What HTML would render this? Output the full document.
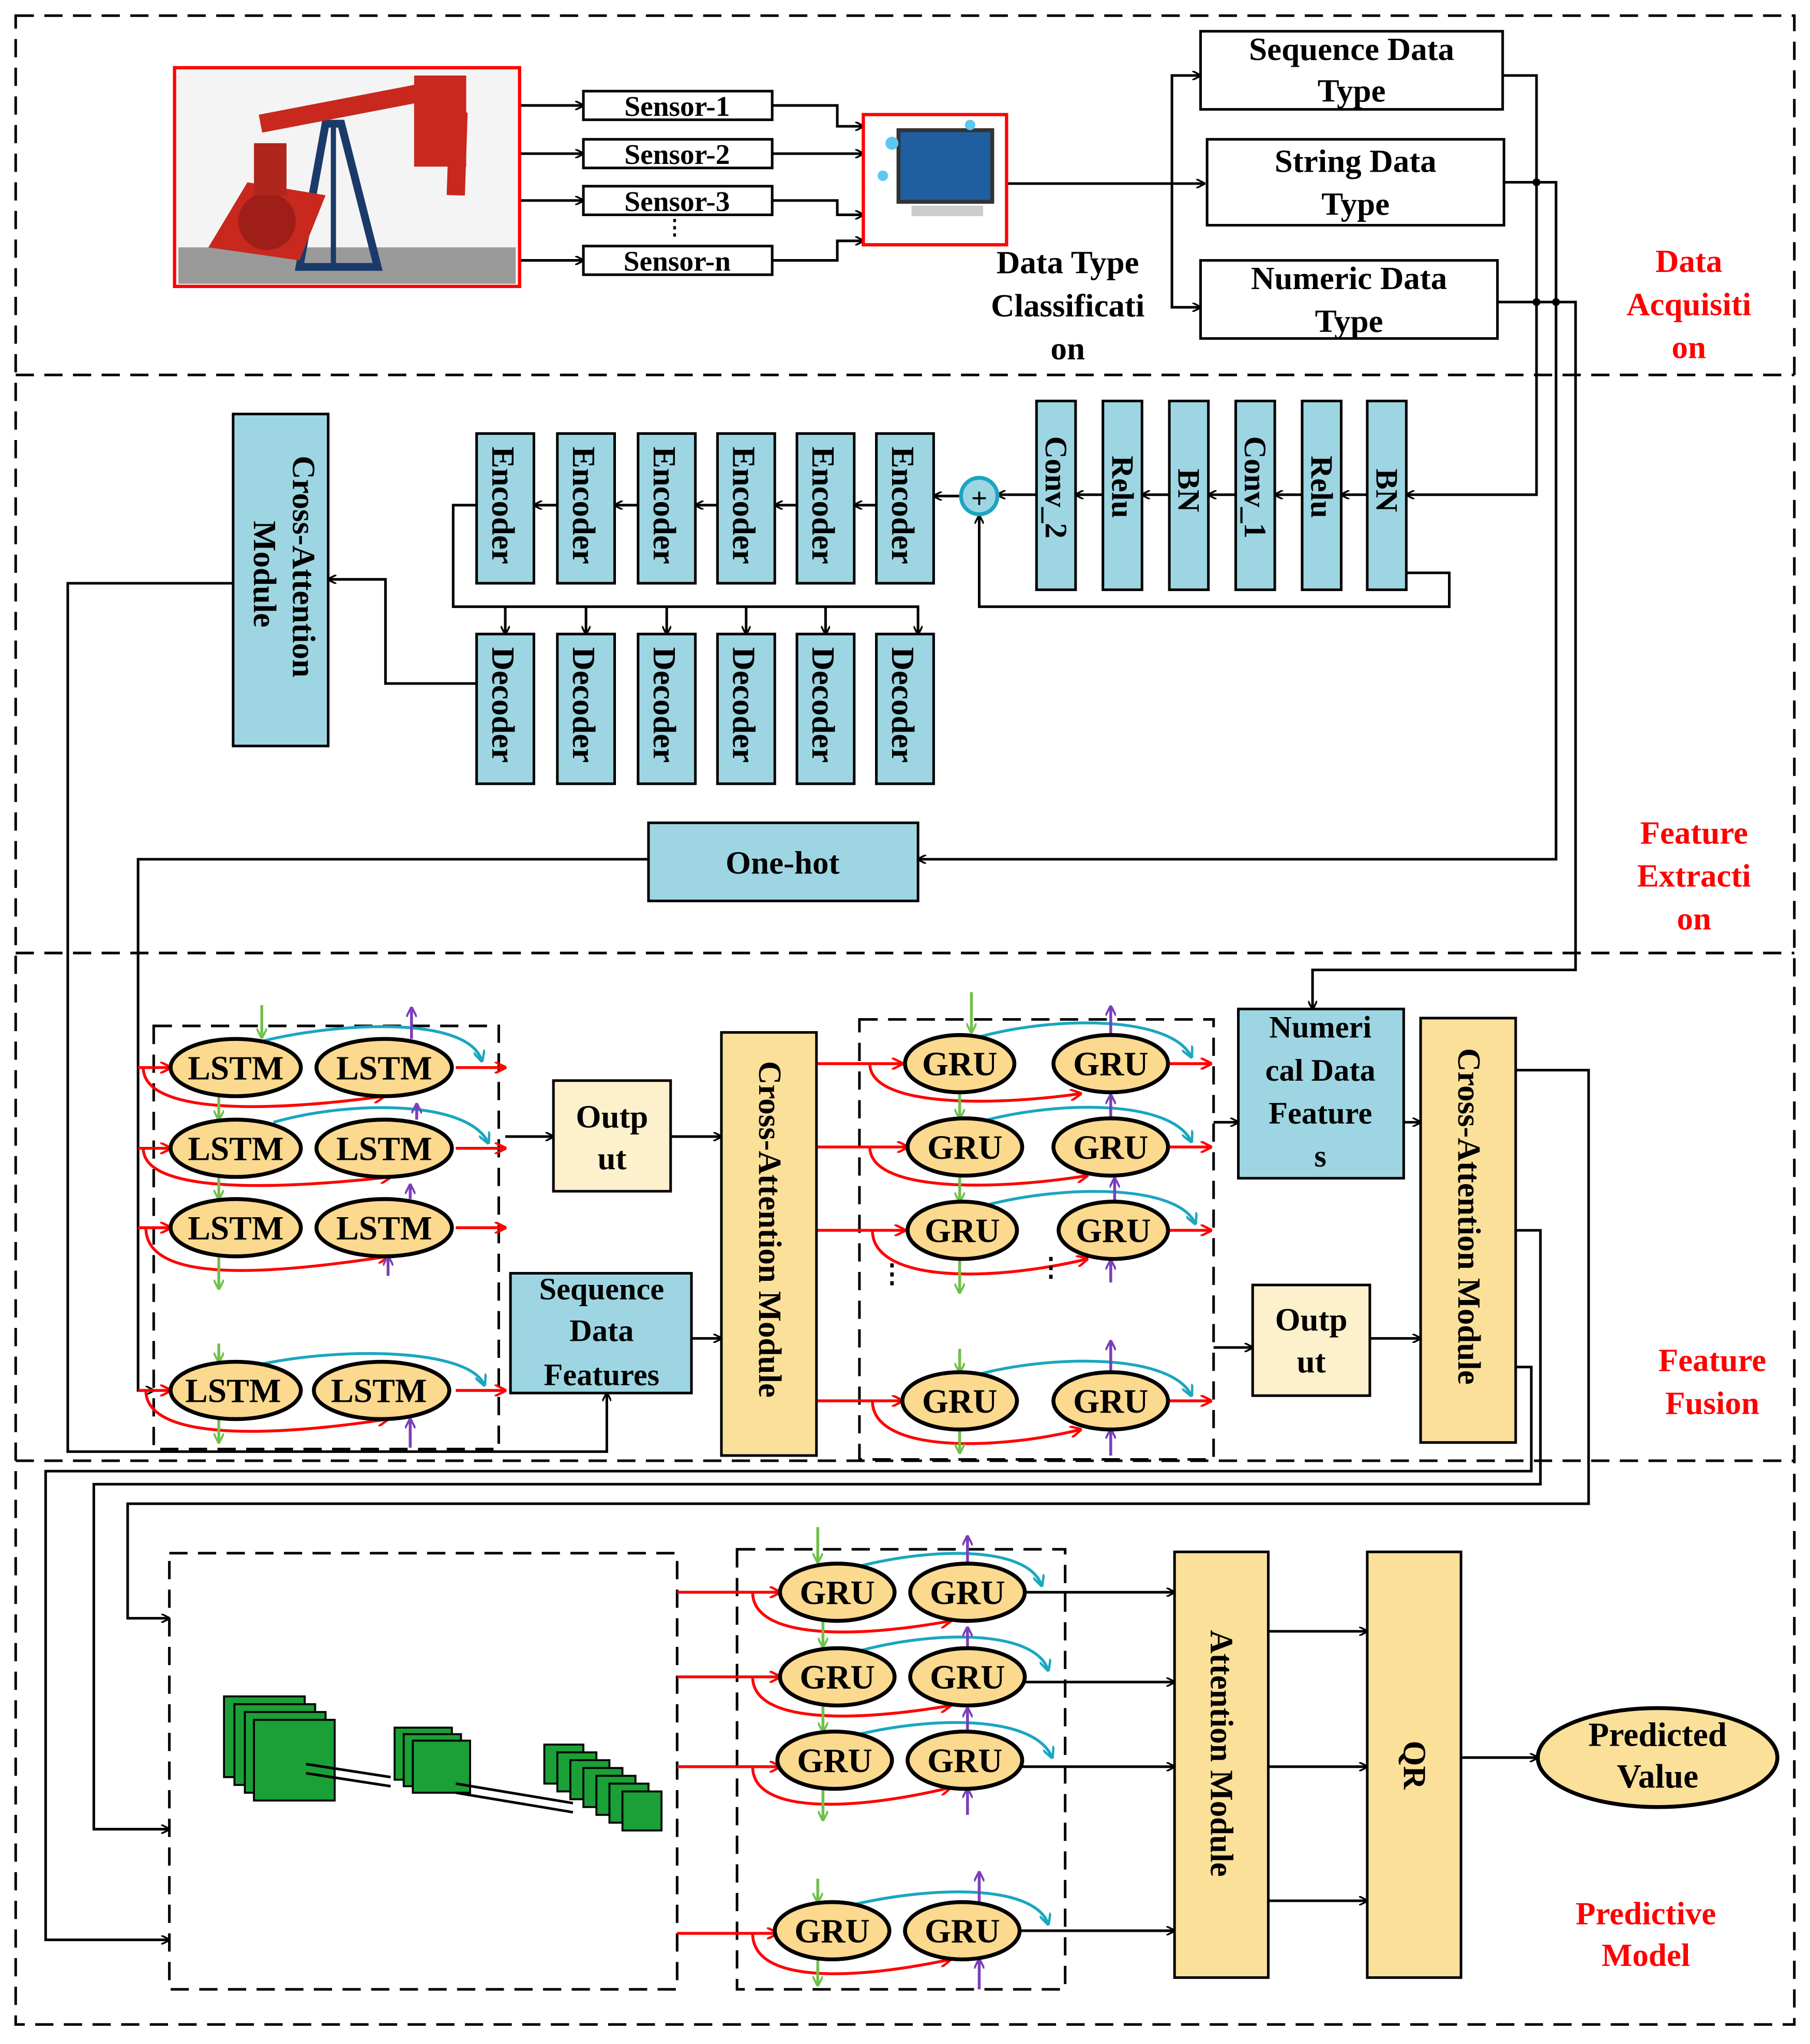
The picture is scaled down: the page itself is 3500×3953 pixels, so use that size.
<!DOCTYPE html>
<html><head><meta charset="utf-8"><style>
html,body{margin:0;padding:0;background:#fff}
svg{display:block}
text{font-family:"Liberation Serif",serif;font-weight:bold}
.k text, text.k{fill:#000}
.red text, text.red{fill:#f00}
</style></head><body>
<svg width="3500" height="3953" viewBox="0 0 1390 1570" xmlns="http://www.w3.org/2000/svg" class="k">
<defs>
<marker id="a" viewBox="0 0 10 10" refX="9" refY="5" markerWidth="7" markerHeight="7" orient="auto" markerUnits="userSpaceOnUse"><path d="M0,0 L10,5 L0,10" fill="none" stroke="#000" stroke-width="2"/></marker>
<marker id="r" viewBox="0 0 10 10" refX="9" refY="5" markerWidth="9" markerHeight="9" orient="auto" markerUnits="userSpaceOnUse"><path d="M0,0 L10,5 L0,10" fill="none" stroke="#f00" stroke-width="2"/></marker>
<marker id="c" viewBox="0 0 10 10" refX="9" refY="5" markerWidth="9" markerHeight="9" orient="auto" markerUnits="userSpaceOnUse"><path d="M0,0 L10,5 L0,10" fill="none" stroke="#1aa6c0" stroke-width="2"/></marker>
<marker id="g" viewBox="0 0 10 10" refX="9" refY="5" markerWidth="8" markerHeight="8" orient="auto" markerUnits="userSpaceOnUse"><path d="M0,0 L10,5 L0,10" fill="none" stroke="#70c04a" stroke-width="2"/></marker>
<marker id="p" viewBox="0 0 10 10" refX="9" refY="5" markerWidth="8" markerHeight="8" orient="auto" markerUnits="userSpaceOnUse"><path d="M0,0 L10,5 L0,10" fill="none" stroke="#7a3fb8" stroke-width="2"/></marker>
</defs>

<g fill="none" stroke="#000" stroke-width="2" stroke-dasharray="14,8">
<rect x="12" y="12" width="1366" height="1543"/>
<line x1="12" y1="288" x2="1378" y2="288"/>
<line x1="12" y1="732" x2="1378" y2="732"/>
<line x1="12" y1="1122" x2="1378" y2="1122"/>
</g>

<rect x="134" y="52" width="265" height="168" fill="#f4f4f4" stroke="#f00" stroke-width="2.5"/>
<g>
<rect x="137" y="190" width="259" height="28" fill="#9a9a9a"/>
<polygon points="230,205 250,95 262,95 290,205" fill="none" stroke="#1a3a6a" stroke-width="6"/>
<line x1="256" y1="95" x2="256" y2="205" stroke="#1a3a6a" stroke-width="4"/>
<path d="M200,95 L330,70 L352,90 L350,150" fill="none" stroke="#c8281e" stroke-width="14"/>
<rect x="318" y="58" width="40" height="70" fill="#c8281e"/>
<polygon points="160,190 190,140 250,150 230,200" fill="#c8281e"/>
<circle cx="205" cy="170" r="22" fill="#a01e18"/>
<rect x="195" y="110" width="25" height="40" fill="#b0261c"/>
</g>

<g stroke="#000" stroke-width="2" fill="#fff">
<rect x="448" y="70" width="145" height="22"/>
<rect x="448" y="107" width="145" height="22"/>
<rect x="448" y="143" width="145" height="22"/>
<rect x="448" y="189" width="145" height="22"/>
</g>
<g font-size="22" text-anchor="middle">
<text x="520" y="89">Sensor-1</text>
<text x="520" y="126">Sensor-2</text>
<text x="520" y="162">Sensor-3</text>
<text x="520" y="208">Sensor-n</text>
<text x="518" y="180" font-size="16">⋮</text>
</g>
<g stroke="#000" stroke-width="2" fill="none" marker-end="url(#a)">
<line x1="400" y1="81" x2="448" y2="81"/>
<line x1="400" y1="118" x2="448" y2="118"/>
<line x1="400" y1="154" x2="448" y2="154"/>
<line x1="400" y1="200" x2="448" y2="200"/>
<polyline points="593,81 643,81 643,97 663,97"/>
<polyline points="593,118 663,118"/>
<polyline points="593,154 643,154 643,165 663,165"/>
<polyline points="593,200 643,200 643,185 663,185"/>
<polyline points="773,141 925,141"/>
<polyline points="900,141 900,58 922,58"/>
<polyline points="900,141 900,236 922,236"/>
</g>
<rect x="663" y="88" width="110" height="100" fill="#fff" stroke="#f00" stroke-width="2.5"/>
<rect x="690" y="100" width="72" height="55" fill="#1f5fa0" stroke="#333" stroke-width="3"/>
<rect x="700" y="158" width="55" height="8" fill="#ccc"/>
<circle cx="685" cy="110" r="5" fill="#5ac8f0"/><circle cx="678" cy="135" r="4" fill="#5ac8f0"/><circle cx="745" cy="96" r="4" fill="#5ac8f0"/>

<g stroke="#000" stroke-width="2" fill="#fff">
<rect x="922" y="24" width="232" height="60"/>
<rect x="927" y="107" width="228" height="66"/>
<rect x="922" y="200" width="228" height="60"/>
</g>
<g font-size="25" text-anchor="middle">
<text x="1038" y="46">Sequence Data</text><text x="1038" y="78">Type</text>
<text x="1041" y="132">String Data</text><text x="1041" y="165">Type</text>
<text x="1036" y="222">Numeric Data</text><text x="1036" y="255">Type</text>
<text x="820" y="210">Data Type</text><text x="820" y="243">Classificati</text><text x="820" y="276">on</text>
</g>
<g font-size="25" text-anchor="middle" class="red">
<text x="1297" y="209">Data</text><text x="1297" y="242">Acquisiti</text><text x="1297" y="275">on</text>
<text x="1301" y="648">Feature</text><text x="1301" y="681">Extracti</text><text x="1301" y="714">on</text>
<text x="1315" y="1053">Feature</text><text x="1315" y="1086">Fusion</text>
<text x="1264" y="1478">Predictive</text><text x="1264" y="1510">Model</text>
</g>

<g stroke="#000" stroke-width="2" fill="none" marker-end="url(#a)">
<polyline points="1154,58 1180,58 1180,380 1080,380"/>
<polyline points="1155,140 1195,140 1195,660 705,660"/>
<polyline points="1150,232 1210,232 1210,745 1008,745 1008,775"/>
</g>
<circle cx="1180" cy="140" r="3"/><circle cx="1180" cy="232" r="3"/><circle cx="1195" cy="232" r="3"/>

<g fill="#9dd6e2" stroke="#000" stroke-width="2">
<rect x="796" y="308" width="30" height="145"/>
<rect x="847" y="308" width="30" height="145"/>
<rect x="898" y="308" width="30" height="145"/>
<rect x="949" y="308" width="30" height="145"/>
<rect x="1000" y="308" width="30" height="145"/>
<rect x="1050" y="308" width="30" height="145"/>
</g>
<g font-size="24">
<text transform="translate(803,335) rotate(90)">Conv_2</text>
<text transform="translate(854,350) rotate(90)">Relu</text>
<text transform="translate(905,360) rotate(90)">BN</text>
<text transform="translate(956,335) rotate(90)">Conv_1</text>
<text transform="translate(1007,350) rotate(90)">Relu</text>
<text transform="translate(1057,360) rotate(90)">BN</text>
</g>
<g stroke="#000" stroke-width="2" fill="none" marker-end="url(#a)">
<line x1="1050" y1="380" x2="1030" y2="380"/>
<line x1="1000" y1="380" x2="979" y2="380"/>
<line x1="949" y1="380" x2="928" y2="380"/>
<line x1="898" y1="380" x2="877" y2="380"/>
<line x1="847" y1="380" x2="826" y2="380"/>
<line x1="796" y1="380" x2="766" y2="380"/>
<polyline points="1080,440 1113,440 1113,466 752,466 752,396"/>
<line x1="738" y1="381" x2="717" y2="381"/>
</g>
<circle cx="752" cy="381" r="14" fill="#9dd6e2" stroke="#1aa6c0" stroke-width="3"/>
<text x="752" y="390" font-size="22" text-anchor="middle">+</text>

<g fill="#9dd6e2" stroke="#000" stroke-width="2">
<rect x="366" y="333" width="44" height="115"/><rect x="428" y="333" width="44" height="115"/>
<rect x="490" y="333" width="44" height="115"/><rect x="551" y="333" width="44" height="115"/>
<rect x="612" y="333" width="44" height="115"/><rect x="673" y="333" width="44" height="115"/>
<rect x="366" y="487" width="44" height="115"/><rect x="428" y="487" width="44" height="115"/>
<rect x="490" y="487" width="44" height="115"/><rect x="551" y="487" width="44" height="115"/>
<rect x="612" y="487" width="44" height="115"/><rect x="673" y="487" width="44" height="115"/>
</g>
<g font-size="25">
<text transform="translate(378,343) rotate(90)">Encoder</text><text transform="translate(440,343) rotate(90)">Encoder</text>
<text transform="translate(502,343) rotate(90)">Encoder</text><text transform="translate(563,343) rotate(90)">Encoder</text>
<text transform="translate(624,343) rotate(90)">Encoder</text><text transform="translate(685,343) rotate(90)">Encoder</text>
<text transform="translate(378,497) rotate(90)">Decoder</text><text transform="translate(440,497) rotate(90)">Decoder</text>
<text transform="translate(502,497) rotate(90)">Decoder</text><text transform="translate(563,497) rotate(90)">Decoder</text>
<text transform="translate(624,497) rotate(90)">Decoder</text><text transform="translate(685,497) rotate(90)">Decoder</text>
</g>
<g stroke="#000" stroke-width="2" fill="none" marker-end="url(#a)">
<line x1="673" y1="388" x2="656" y2="388"/><line x1="612" y1="388" x2="595" y2="388"/>
<line x1="551" y1="388" x2="534" y2="388"/><line x1="490" y1="388" x2="472" y2="388"/>
<line x1="428" y1="388" x2="410" y2="388"/>
<polyline points="366,388 348,388 348,466 705,466 705,487"/>
<line x1="388" y1="466" x2="388" y2="487"/><line x1="450" y1="466" x2="450" y2="487"/>
<line x1="512" y1="466" x2="512" y2="487"/><line x1="573" y1="466" x2="573" y2="487"/>
<line x1="634" y1="466" x2="634" y2="487"/>
<polyline points="366,525 296,525 296,445 252,445"/>
<polyline points="179,448 52,448 52,1115 466,1115 466,1070"/>
<polyline points="498,660 106,660 106,1068 118,1068"/>
</g>
<rect x="179" y="318" width="73" height="255" fill="#9dd6e2" stroke="#000" stroke-width="2"/>
<g font-size="25"><text transform="translate(225,350) rotate(90)">Cross-Attention</text><text transform="translate(195,400) rotate(90)">Module</text></g>
<rect x="498" y="632" width="207" height="60" fill="#9dd6e2" stroke="#000" stroke-width="2"/>
<text x="601" y="671" font-size="25" text-anchor="middle">One-hot</text>

<rect x="118" y="788" width="265" height="325" fill="none" stroke="#000" stroke-width="2" stroke-dasharray="14,8"/>
<rect x="660" y="783" width="272" height="338" fill="none" stroke="#000" stroke-width="2" stroke-dasharray="14,8"/>

<g stroke-width="2.2" fill="none">
<g stroke="#f00" marker-end="url(#r)">
<line x1="106" y1="820" x2="131" y2="820"/><line x1="106" y1="882" x2="131" y2="882"/>
<line x1="106" y1="943" x2="131" y2="943"/><line x1="106" y1="1068" x2="131" y2="1068"/>
<path d="M110,820 C110,855 200,855 295,842"/><path d="M110,882 C110,915 200,915 300,904"/>
<path d="M112,943 C112,985 200,980 298,965"/><path d="M112,1068 C112,1105 200,1105 298,1090"/>
<line x1="350" y1="820" x2="388" y2="820"/><line x1="350" y1="882" x2="388" y2="882"/>
<line x1="350" y1="943" x2="388" y2="943"/><line x1="350" y1="1068" x2="388" y2="1068"/>
</g>
<g stroke="#1aa6c0" marker-end="url(#c)">
<path d="M200,800 C260,785 360,780 370,815"/><path d="M210,862 C270,845 360,845 375,878"/>
<path d="M200,1048 C260,1035 360,1035 372,1064"/>
</g>
<g stroke="#70c04a" marker-end="url(#g)">
<line x1="201" y1="772" x2="201" y2="797"/><line x1="168" y1="842" x2="168" y2="860"/>
<line x1="168" y1="904" x2="168" y2="921"/><line x1="168" y1="965" x2="168" y2="990"/>
<line x1="168" y1="1032" x2="168" y2="1046"/><line x1="168" y1="1090" x2="168" y2="1108"/>
</g>
<g stroke="#7a3fb8" marker-end="url(#p)">
<line x1="316" y1="798" x2="316" y2="774"/><line x1="320" y1="860" x2="320" y2="848"/>
<line x1="315" y1="921" x2="315" y2="910"/><line x1="298" y1="980" x2="298" y2="965"/>
<line x1="315" y1="1112" x2="315" y2="1090"/>
</g>
<g stroke="#f00" marker-end="url(#r)">
<line x1="627" y1="817" x2="693" y2="817"/><line x1="627" y1="881" x2="697" y2="881"/>
<line x1="627" y1="945" x2="695" y2="945"/><line x1="627" y1="1076" x2="693" y2="1076"/>
<path d="M668,817 C668,850 760,850 830,840"/><path d="M668,881 C668,915 760,915 835,903"/>
<path d="M670,945 C670,985 760,985 835,967"/><path d="M670,1076 C670,1115 760,1115 830,1098"/>
<line x1="897" y1="817" x2="930" y2="817"/><line x1="897" y1="881" x2="930" y2="881"/>
<line x1="897" y1="945" x2="930" y2="945"/><line x1="897" y1="1076" x2="930" y2="1076"/>
</g>
<g stroke="#1aa6c0" marker-end="url(#c)">
<path d="M750,797 C810,780 900,780 915,812"/><path d="M755,861 C815,845 900,845 915,877"/>
<path d="M760,925 C820,910 905,910 918,940"/><path d="M750,1056 C810,1040 900,1040 915,1072"/>
</g>
<g stroke="#70c04a" marker-end="url(#g)">
<line x1="746" y1="762" x2="746" y2="793"/><line x1="737" y1="839" x2="737" y2="859"/>
<line x1="737" y1="903" x2="737" y2="923"/><line x1="737" y1="967" x2="737" y2="993"/>
<line x1="737" y1="1036" x2="737" y2="1054"/><line x1="737" y1="1098" x2="737" y2="1116"/>
</g>
<g stroke="#7a3fb8" marker-end="url(#p)">
<line x1="853" y1="795" x2="853" y2="773"/><line x1="853" y1="859" x2="853" y2="841"/>
<line x1="856" y1="923" x2="856" y2="905"/><line x1="853" y1="985" x2="853" y2="968"/>
<line x1="853" y1="1054" x2="853" y2="1030"/><line x1="853" y1="1118" x2="853" y2="1098"/>
</g>
</g>

<g fill="#fbd98e" stroke="#000" stroke-width="3">
<ellipse cx="181" cy="820" rx="50" ry="22"/><ellipse cx="295" cy="820" rx="52" ry="22"/>
<ellipse cx="181" cy="882" rx="50" ry="22"/><ellipse cx="295" cy="882" rx="52" ry="22"/>
<ellipse cx="181" cy="943" rx="50" ry="22"/><ellipse cx="295" cy="943" rx="52" ry="22"/>
<ellipse cx="181" cy="1068" rx="50" ry="22"/><ellipse cx="293" cy="1068" rx="52" ry="22"/>
<ellipse cx="737" cy="817" rx="42" ry="22"/><ellipse cx="853" cy="817" rx="44" ry="22"/>
<ellipse cx="741" cy="881" rx="44" ry="22"/><ellipse cx="853" cy="881" rx="44" ry="22"/>
<ellipse cx="739" cy="945" rx="42" ry="22"/><ellipse cx="855" cy="945" rx="42" ry="22"/>
<ellipse cx="737" cy="1076" rx="44" ry="22"/><ellipse cx="853" cy="1076" rx="44" ry="22"/>
</g>
<g font-size="26" text-anchor="middle">
<text x="181" y="829">LSTM</text><text x="295" y="829">LSTM</text>
<text x="181" y="891">LSTM</text><text x="295" y="891">LSTM</text>
<text x="181" y="952">LSTM</text><text x="295" y="952">LSTM</text>
<text x="179" y="1077">LSTM</text><text x="291" y="1077">LSTM</text>
<text x="737" y="826">GRU</text><text x="853" y="826">GRU</text>
<text x="741" y="890">GRU</text><text x="853" y="890">GRU</text>
<text x="739" y="954">GRU</text><text x="855" y="954">GRU</text>
<text x="737" y="1085">GRU</text><text x="853" y="1085">GRU</text>
<text x="685" y="985" font-size="20">⋮</text><text x="807" y="980" font-size="20">⋮</text>
</g>

<g stroke="#000" stroke-width="2" fill="none" marker-end="url(#a)">
<line x1="388" y1="873" x2="425" y2="873"/>
<line x1="515" y1="873" x2="554" y2="873"/>
<line x1="531" y1="1028" x2="554" y2="1028"/>
<polyline points="932,862 951,862"/>
<polyline points="932,1035 962,1035"/>
<line x1="1078" y1="862" x2="1091" y2="862"/>
<line x1="1052" y1="1028" x2="1091" y2="1028"/>
<polyline points="1164,822 1220,822 1220,1155 98,1155 98,1243 130,1243"/>
<polyline points="1164,945 1183,945 1183,1140 72,1140 72,1405 130,1405"/>
<polyline points="1164,1050 1176,1050 1176,1130 35,1130 35,1490 130,1490"/>
</g>
<rect x="425" y="830" width="90" height="85" fill="#fdf0cc" stroke="#000" stroke-width="2"/>
<g font-size="25" text-anchor="middle"><text x="470" y="866">Outp</text><text x="470" y="898">ut</text></g>
<rect x="962" y="987" width="90" height="85" fill="#fdf0cc" stroke="#000" stroke-width="2"/>
<g font-size="25" text-anchor="middle"><text x="1007" y="1022">Outp</text><text x="1007" y="1054">ut</text></g>
<rect x="392" y="978" width="139" height="92" fill="#9dd6e2" stroke="#000" stroke-width="2"/>
<g font-size="24" text-anchor="middle"><text x="462" y="998">Sequence</text><text x="462" y="1030">Data</text><text x="462" y="1064">Features</text></g>
<rect x="951" y="775" width="127" height="130" fill="#9dd6e2" stroke="#000" stroke-width="2"/>
<g font-size="24" text-anchor="middle"><text x="1014" y="797">Numeri</text><text x="1014" y="830">cal Data</text><text x="1014" y="863">Feature</text><text x="1014" y="896">s</text></g>
<rect x="554" y="793" width="73" height="325" fill="#fbe09a" stroke="#000" stroke-width="2"/>
<text transform="translate(583,815) rotate(90)" font-size="25">Cross-Attention Module</text>
<rect x="1091" y="782" width="73" height="326" fill="#fbe09a" stroke="#000" stroke-width="2"/>
<text transform="translate(1120,805) rotate(90)" font-size="25">Cross-Attention Module</text>

<rect x="130" y="1193" width="390" height="335" fill="none" stroke="#000" stroke-width="2" stroke-dasharray="14,8"/>
<rect x="566" y="1190" width="252" height="338" fill="none" stroke="#000" stroke-width="2" stroke-dasharray="14,8"/>
<g fill="#1aa037" stroke="#000" stroke-width="1.5">
<rect x="172" y="1303" width="62" height="62"/><rect x="180" y="1309" width="62" height="62"/><rect x="188" y="1315" width="62" height="62"/><rect x="195" y="1321" width="62" height="62"/>
<rect x="303" y="1327" width="44" height="40"/><rect x="310" y="1332" width="44" height="40"/><rect x="317" y="1337" width="44" height="40"/>
<rect x="418" y="1340" width="30" height="30"/><rect x="428" y="1346" width="30" height="30"/><rect x="438" y="1352" width="30" height="30"/><rect x="448" y="1358" width="30" height="30"/><rect x="458" y="1364" width="30" height="30"/><rect x="468" y="1370" width="30" height="30"/><rect x="478" y="1376" width="30" height="30"/>
</g>
<g stroke="#000" stroke-width="2"><line x1="235" y1="1355" x2="300" y2="1365"/><line x1="235" y1="1362" x2="300" y2="1372"/><line x1="350" y1="1370" x2="440" y2="1385"/><line x1="350" y1="1377" x2="440" y2="1392"/></g>

<g stroke-width="2.2" fill="none">
<g stroke="#f00" marker-end="url(#r)">
<line x1="520" y1="1223" x2="599" y2="1223"/><line x1="520" y1="1288" x2="599" y2="1288"/>
<line x1="520" y1="1357" x2="599" y2="1357"/><line x1="520" y1="1485" x2="597" y2="1485"/>
<path d="M578,1223 C578,1260 660,1258 730,1245"/><path d="M578,1288 C578,1325 660,1322 730,1310"/>
<path d="M578,1357 C578,1395 660,1390 730,1373"/><path d="M578,1485 C578,1525 660,1520 730,1505"/>
</g>
<g stroke="#1aa6c0" marker-end="url(#c)">
<path d="M660,1203 C720,1188 790,1188 800,1218"/><path d="M660,1268 C720,1252 795,1252 805,1283"/>
<path d="M660,1332 C720,1318 795,1318 808,1350"/><path d="M655,1463 C720,1448 795,1448 805,1478"/>
</g>
<g stroke="#70c04a" marker-end="url(#g)">
<line x1="628" y1="1173" x2="628" y2="1200"/><line x1="632" y1="1245" x2="632" y2="1265"/>
<line x1="632" y1="1310" x2="632" y2="1330"/><line x1="632" y1="1374" x2="632" y2="1398"/>
<line x1="628" y1="1443" x2="628" y2="1461"/><line x1="628" y1="1505" x2="628" y2="1525"/>
</g>
<g stroke="#7a3fb8" marker-end="url(#p)">
<line x1="743" y1="1201" x2="743" y2="1180"/><line x1="743" y1="1266" x2="743" y2="1250"/>
<line x1="743" y1="1330" x2="743" y2="1312"/><line x1="743" y1="1394" x2="743" y2="1374"/>
<line x1="752" y1="1461" x2="752" y2="1438"/><line x1="752" y1="1528" x2="752" y2="1505"/>
</g>
</g>
<g fill="#fbd98e" stroke="#000" stroke-width="3">
<ellipse cx="643" cy="1223" rx="44" ry="22"/><ellipse cx="743" cy="1223" rx="44" ry="22"/>
<ellipse cx="643" cy="1288" rx="44" ry="22"/><ellipse cx="743" cy="1288" rx="44" ry="22"/>
<ellipse cx="641" cy="1352" rx="44" ry="22"/><ellipse cx="741" cy="1352" rx="44" ry="22"/>
<ellipse cx="639" cy="1483" rx="44" ry="22"/><ellipse cx="739" cy="1483" rx="44" ry="22"/>
</g>
<g font-size="26" text-anchor="middle">
<text x="643" y="1232">GRU</text><text x="743" y="1232">GRU</text>
<text x="643" y="1297">GRU</text><text x="743" y="1297">GRU</text>
<text x="641" y="1361">GRU</text><text x="741" y="1361">GRU</text>
<text x="639" y="1492">GRU</text><text x="739" y="1492">GRU</text>
</g>
<g stroke="#000" stroke-width="2" fill="none" marker-end="url(#a)">
<line x1="787" y1="1223" x2="902" y2="1223"/><line x1="787" y1="1292" x2="902" y2="1292"/>
<line x1="785" y1="1357" x2="902" y2="1357"/><line x1="783" y1="1483" x2="902" y2="1483"/>
<line x1="974" y1="1253" x2="1050" y2="1253"/><line x1="974" y1="1357" x2="1050" y2="1357"/>
<line x1="974" y1="1460" x2="1050" y2="1460"/><line x1="1122" y1="1350" x2="1181" y2="1350"/>
</g>
<rect x="902" y="1192" width="72" height="327" fill="#fbe09a" stroke="#000" stroke-width="2"/>
<text transform="translate(930,1252) rotate(90)" font-size="25">Attention Module</text>
<rect x="1050" y="1192" width="72" height="327" fill="#fbe09a" stroke="#000" stroke-width="2"/>
<text transform="translate(1078,1337) rotate(90)" font-size="25">QR</text>
<ellipse cx="1273" cy="1350" rx="92" ry="38" fill="#fbe09a" stroke="#000" stroke-width="3"/>
<g font-size="26" text-anchor="middle"><text x="1273" y="1341">Predicted</text><text x="1273" y="1373">Value</text></g>
</svg>
</body></html>
